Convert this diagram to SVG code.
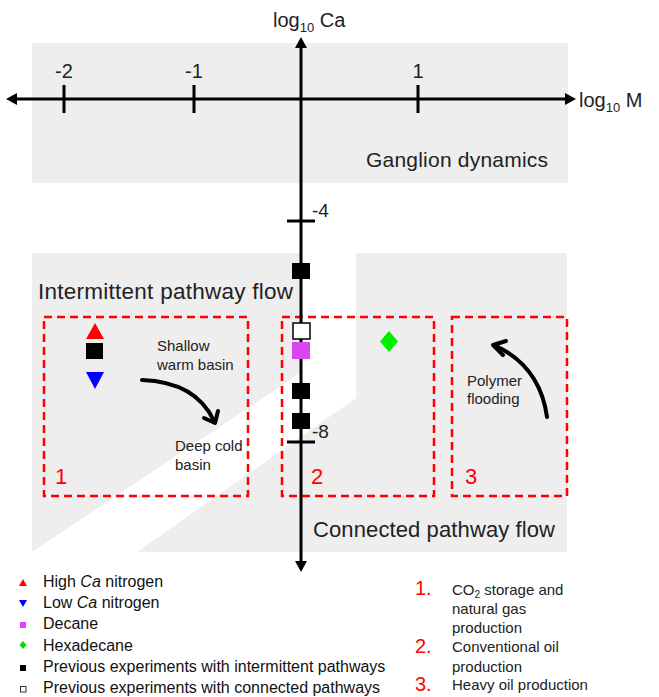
<svg xmlns="http://www.w3.org/2000/svg" width="659" height="697" viewBox="0 0 659 697">
<style>
.t{font-family:"Liberation Sans",Arial,sans-serif;fill:#222}
.lg{font-family:"Liberation Sans",Arial,sans-serif;font-size:16px;fill:#111}
.red{font-family:"Liberation Sans",Arial,sans-serif;fill:#ff0000}
.box{fill:none;stroke:#ff0000;stroke-width:2.5;stroke-dasharray:8 5}
.ax{stroke:#000;stroke-width:3;fill:none}
.arr{stroke:#000;stroke-width:4;fill:none;stroke-linecap:round;stroke-linejoin:round}
.gray{fill:#eeeeee}
</style>
<rect width="659" height="697" fill="#fff"/>
<g id="regions">
<rect class="gray" x="32" y="43" width="536" height="140"/>
<polygon class="gray" points="32,253 302,253 302,372 32,552"/>
<polygon class="gray" points="356,253 567,253 567,552 137,552 356,398"/>
</g>
<g id="region-labels">
<text class="t" x="366" y="167" font-size="21" textLength="182" lengthAdjust="spacing">Ganglion dynamics</text>
<text class="t" x="38" y="299" font-size="22.5" textLength="255" lengthAdjust="spacing">Intermittent pathway flow</text>
<text class="t" x="313" y="537" font-size="22" textLength="242" lengthAdjust="spacing">Connected pathway flow</text>
</g>
<g id="boxes">
<rect class="box" x="44" y="317" width="204" height="179"/>
<rect class="box" x="282" y="317" width="152" height="179"/>
<rect class="box" x="452" y="317" width="115" height="179"/>
<text class="red" x="55" y="484" font-size="22">1</text>
<text class="red" x="311" y="484" font-size="22">2</text>
<text class="red" x="465" y="484" font-size="22">3</text>
</g>
<g id="axes">
<line class="ax" x1="14" y1="99" x2="568" y2="99"/>
<polygon points="6,99 17,93 17,105" fill="#000"/>
<polygon points="576,99 565,93 565,105" fill="#000"/>
<line class="ax" x1="301" y1="46" x2="301" y2="563"/>
<polygon points="301,37 295,48 307,48" fill="#000"/>
<polygon points="301,572 295,561 307,561" fill="#000"/>
<line class="ax" x1="64" y1="85" x2="64" y2="113"/>
<line class="ax" x1="194" y1="85" x2="194" y2="113"/>
<line class="ax" x1="418" y1="85" x2="418" y2="113"/>
<line class="ax" x1="287" y1="221" x2="315" y2="221"/>
<line class="ax" x1="287" y1="442" x2="315" y2="442"/>
<text class="t" x="64" y="78" font-size="20" text-anchor="middle">-2</text>
<text class="t" x="194" y="78" font-size="20" text-anchor="middle">-1</text>
<text class="t" x="418" y="78" font-size="20" text-anchor="middle">1</text>
<text class="t" x="312" y="217" font-size="19">-4</text>
<text class="t" x="312" y="438" font-size="19">-8</text>
<text class="t" x="273" y="27" font-size="20">log<tspan font-size="13" dy="5">10</tspan><tspan dy="-5"> Ca</tspan></text>
<text class="t" x="579" y="107" font-size="20">log<tspan font-size="13" dy="5">10</tspan><tspan dy="-5"> M</tspan></text>
</g>
<g id="data-points">
<rect x="292" y="263" width="18" height="16" fill="#000"/>
<rect x="293" y="323" width="17" height="16" fill="#fff" stroke="#000" stroke-width="1.5"/>
<rect x="292" y="342" width="18" height="17" fill="#d946ef"/>
<rect x="292" y="383" width="18" height="16" fill="#000"/>
<rect x="292" y="413" width="18" height="16" fill="#000"/>
<polygon points="389,331 398,341.5 389,352 380,341.5" fill="#00ee00"/>
<polygon points="95,323 104,339 86,339" fill="#ff0000"/>
<rect x="86" y="343" width="17" height="16" fill="#000"/>
<polygon points="86,372 104,372 95,389" fill="#0000ff"/>
</g>
<g id="annotations">
<text class="t" x="157" y="351" font-size="15">Shallow</text>
<text class="t" x="157" y="370" font-size="15">warm basin</text>
<text class="t" x="175" y="451" font-size="15">Deep cold</text>
<text class="t" x="175" y="470" font-size="15">basin</text>
<path class="arr" d="M142,380 Q196,382 214,421"/>
<polyline class="arr" points="204,418 215,423 218,411"/>
<text class="t" x="467" y="386" font-size="15">Polymer</text>
<text class="t" x="467" y="404" font-size="15">flooding</text>
<path class="arr" d="M547,417 Q540,366 494,345"/>
<polyline class="arr" points="503,355 493,345 506,341"/>
</g>
<g id="legend">
<polygon points="23,579 27,586 19,586" fill="#ff0000"/>
<polygon points="19,600 27,600 23,607" fill="#0000ff"/>
<rect x="20" y="622" width="6" height="6" fill="#e040fb"/>
<polygon points="23,641 26.5,645 23,649 19.5,645" fill="#00dd00"/>
<rect x="20" y="665" width="6" height="6" fill="#000"/>
<rect x="20.5" y="686.5" width="5.5" height="5.5" fill="#fff" stroke="#333" stroke-width="1"/>
<text class="lg" x="43" y="587">High <tspan font-style="italic">Ca</tspan> nitrogen</text>
<text class="lg" x="43" y="608">Low <tspan font-style="italic">Ca</tspan> nitrogen</text>
<text class="lg" x="43" y="629">Decane</text>
<text class="lg" x="43" y="651">Hexadecane</text>
<text class="lg" x="43" y="672">Previous experiments with intermittent pathways</text>
<text class="lg" x="43" y="693">Previous experiments with connected pathways</text>
<text class="red" x="415" y="595" font-size="20">1.</text>
<text class="red" x="415" y="653" font-size="20">2.</text>
<text class="red" x="415" y="691" font-size="20">3.</text>
<text class="t" x="452" y="595" font-size="15">CO<tspan font-size="10" dy="3">2</tspan><tspan dy="-3"> storage and</tspan></text>
<text class="t" x="452" y="614" font-size="15">natural gas</text>
<text class="t" x="452" y="633" font-size="15">production</text>
<text class="t" x="452" y="652" font-size="15">Conventional oil</text>
<text class="t" x="452" y="672" font-size="15">production</text>
<text class="t" x="452" y="690" font-size="15">Heavy oil production</text>
</g>
</svg>
